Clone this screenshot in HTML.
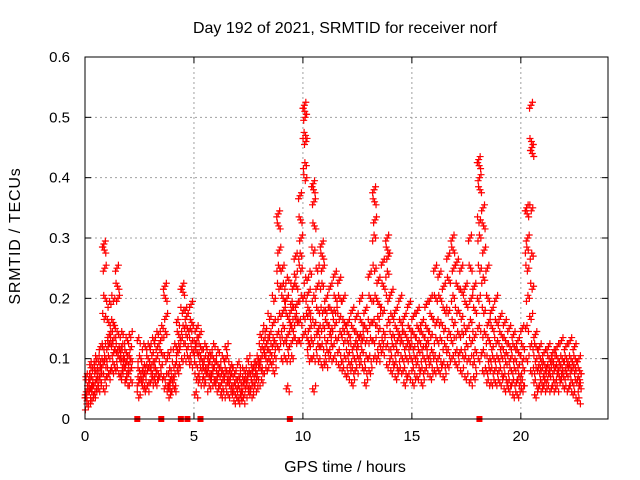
<!DOCTYPE html>
<html><head><meta charset="utf-8"><style>
body{margin:0;background:#fff;}
svg{display:block;font-family:"Liberation Sans",sans-serif;}
</style></head><body>
<svg id="chart" width="640" height="480" viewBox="0 0 640 480" xmlns="http://www.w3.org/2000/svg">
<rect width="640" height="480" fill="#fff"/>
<text x="345" y="33" font-size="16" text-anchor="middle">Day 192 of 2021, SRMTID for receiver norf</text>
<text transform="translate(20,236) rotate(-90)" font-size="16" letter-spacing="0.8" text-anchor="middle">SRMTID / TECUs</text>
<text x="345" y="472" font-size="16" text-anchor="middle">GPS time / hours</text>
<g id="grid"></g><g id="ticks"></g><g id="marks"></g>
<rect x="85" y="57" width="523" height="362" fill="none" stroke="#000" stroke-width="1"/>
</svg>
<script>
const xTicks=[0,5,10,15,20];
const yTicks=[0,0.1,0.2,0.3,0.4,0.5,0.6];
const yTickLabels=["0","0.1","0.2","0.3","0.4","0.5","0.6"];
const binTimes=[0,0.2,0.4,0.6,0.8,1.0,1.2,1.4,1.6,1.8,2.0,2.4,2.6,2.8,3.0,3.2,3.4,3.6,3.8,4.0,4.2,4.4,4.6,4.8,5.0,5.2,5.4,5.6,5.8,6.0,6.2,6.4,6.6,6.8,7.0,7.2,7.4,7.6,7.8,8.0,8.2,8.4,8.6,8.8,9.0,9.2,9.4,9.6,9.8,10.0,10.2,10.4,10.6,10.8,11.0,11.2,11.4,11.6,11.8,12.0,12.2,12.4,12.6,12.8,13.0,13.2,13.4,13.6,13.8,14.0,14.2,14.4,14.6,14.8,15.0,15.2,15.4,15.6,15.8,16.0,16.2,16.4,16.6,16.8,17.0,17.2,17.4,17.6,17.8,18.0,18.2,18.4,18.6,18.8,19.0,19.2,19.4,19.6,19.8,20.0,20.2,20.4,20.6,20.8,21.0,21.2,21.4,21.6,21.8,22.0,22.2,22.4,22.6];
const binValues=[
[.04,.03,.05,.02,.06,.04,.07],[.05,.07,.03,.08,.06,.04,.09,.05],[.06,.08,.05,.1,.07,.04,.09],[.07,.09,.12,.06,.1,.05,.08],
[.29,.28,.25,.2,.17,.1,.07,.12,.09,.05],[.12,.16,.14,.1,.08,.19,.07,.13],[.13,.16,.11,.09,.2,.15,.12,.08],[.25,.22,.2,.14,.12,.1,.08,.11],
[.12,.1,.08,.14,.09,.07,.11],[.09,.11,.07,.13,.08,.1,.06],[.08,.1,.12,.06,.09,.14],[.06,.08,.04,.1,.13,.07],
[.07,.05,.09,.12,.06,.08],[.08,.1,.06,.12,.05,.09],[.09,.07,.11,.13,.06,.08],[.1,.08,.12,.14,.07,.06],
[.13,.11,.09,.15,.07],[.22,.2,.17,.14,.1,.07,.05],[.06,.05,.04,.08,.07,.11,.05],[.07,.05,.09,.12,.06],
[.11,.14,.09,.12,.16,.08],[.22,.21,.18,.15,.13,.1],[.17,.15,.12,.1,.18,.14],[.19,.16,.13,.11,.09,.15],
[.12,.09,.15,.11,.07,.13,.04],[.14,.12,.1,.08,.06,.11],[.1,.08,.06,.12,.09,.07],[.09,.07,.11,.05,.08,.1],
[.08,.1,.06,.12,.07,.09],[.07,.09,.05,.11,.06,.08],[.06,.08,.05,.1,.07,.04],[.1,.08,.06,.04,.07,.12],
[.07,.05,.09,.04,.06,.08],[.06,.04,.08,.05,.07,.03],[.07,.05,.04,.06,.09,.03],[.06,.08,.04,.05,.03,.07],
[.07,.05,.08,.04,.06,.1],[.08,.06,.04,.07,.05,.09],[.09,.07,.05,.1,.06,.08],[.1,.08,.12,.06,.09,.14],
[.12,.1,.15,.08,.13,.11],[.14,.11,.17,.09,.13,.1],[.16,.13,.2,.1,.12,.08],[.34,.32,.28,.25,.22,.17,.14,.12],
[.25,.2,.18,.15,.13,.1,.22],[.2,.17,.14,.23,.12,.1,.05],[.18,.15,.13,.1,.22,.16,.19],[.27,.22,.19,.16,.13,.24,.17],
[.37,.33,.3,.27,.25,.2,.16,.13],[.52,.51,.5,.47,.46,.42,.4,.23,.2,.17,.14],[.21,.18,.15,.12,.1,.24,.17,.13],[.39,.38,.36,.32,.28,.2,.16,.13,.1,.05],
[.22,.18,.15,.12,.1,.25,.14],[.29,.27,.25,.22,.18,.15,.12,.09],[.2,.16,.13,.11,.09,.18],[.22,.18,.15,.12,.1,.14],
[.24,.2,.16,.13,.1,.18],[.23,.2,.17,.14,.11,.09],[.2,.16,.13,.1,.08,.15],[.16,.14,.11,.09,.07,.13],
[.18,.15,.12,.1,.08,.06],[.17,.14,.12,.1,.08,.13],[.2,.16,.13,.11,.09,.14],[.18,.15,.13,.1,.08,.06],
[.24,.2,.16,.13,.1,.08],[.38,.36,.33,.3,.25,.2,.16,.13,.1],[.23,.19,.15,.12,.1,.17],[.26,.22,.18,.14,.11,.13],
[.3,.28,.27,.24,.2,.16,.12,.09],[.21,.17,.14,.12,.1,.08],[.18,.15,.13,.11,.09,.07],[.2,.16,.13,.1,.08,.14],
[.17,.14,.12,.1,.08,.06],[.19,.15,.12,.1,.07,.13],[.17,.14,.12,.1,.08,.06],[.18,.15,.13,.11,.09,.07],
[.16,.14,.12,.1,.08,.06],[.19,.15,.13,.1,.08,.12],[.2,.17,.14,.11,.09,.07],[.25,.2,.16,.13,.1,.08],
[.24,.2,.16,.13,.1,.08],[.22,.18,.15,.12,.09,.07],[.27,.23,.18,.14,.11,.09],[.3,.28,.25,.2,.16,.13,.1],
[.26,.22,.18,.14,.11,.09],[.25,.21,.17,.14,.11,.08],[.22,.19,.15,.12,.1,.07],[.3,.25,.2,.16,.13,.1,.06],
[.22,.18,.14,.11,.09,.07],[.43,.42,.4,.38,.33,.3,.25,.2,.15,.1],[.35,.32,.28,.23,.18,.14,.11,.08],[.25,.2,.16,.13,.1,.08,.06],
[.18,.15,.12,.1,.08,.06],[.2,.16,.13,.1,.08,.06],[.17,.14,.12,.1,.08,.06],[.16,.13,.11,.09,.07,.05],
[.15,.12,.1,.08,.06,.05],[.14,.12,.1,.08,.06,.04],[.13,.11,.09,.07,.06,.04],[.15,.12,.1,.08,.06,.05],
[.35,.34,.3,.28,.25,.2,.15,.1],[.52,.46,.45,.44,.35,.27,.22,.17,.12,.08],[.14,.12,.1,.08,.06,.04],[.12,.1,.08,.06,.05,.09],
[.11,.09,.08,.06,.05,.07],[.12,.1,.08,.07,.05,.09],[.11,.09,.08,.06,.05,.1],[.12,.1,.08,.07,.05,.09],
[.13,.1,.08,.07,.06,.09],[.12,.1,.09,.07,.05,.08],[.13,.1,.08,.06,.05,.09],[.12,.1,.08,.06,.04,.09],
[.1,.08,.06,.05,.03,.07]];
const zeroTimes=[2.4,3.5,4.4,4.7,5.3,9.4,18.1];

const NS="http://www.w3.org/2000/svg";
const X0=85,X1=608,Y0=419,Y1=57,XMAX=24,YMAX=0.6;
function xs(v){return X0+(v/XMAX)*(X1-X0);}
function ys(v){return Y0-(v/YMAX)*(Y0-Y1);}
function mk(tag,attrs,parent){const e=document.createElementNS(NS,tag);for(const k in attrs)e.setAttribute(k,attrs[k]);parent.appendChild(e);return e;}
const grid=document.getElementById('grid'),ticks=document.getElementById('ticks'),marks=document.getElementById('marks');
xTicks.forEach(t=>{
  const x=xs(t);
  if(t>0){const g=mk('line',{x1:x,x2:x,y1:Y1,y2:Y0,stroke:'#a0a0a0','stroke-dasharray':'2,3'},grid);
  
  }
  mk('line',{x1:x,x2:x,y1:Y0,y2:Y0-6,stroke:'#000'},ticks);
  mk('line',{x1:x,x2:x,y1:Y1,y2:Y1+6,stroke:'#000'},ticks);
  const l=mk('text',{x:x,y:Y0+22,'font-size':'15','text-anchor':'middle'},ticks);
  l.textContent=String(t);
  
  
});
yTicks.forEach((t,i)=>{
  const y=ys(t);
  if(t>0&&t<YMAX){const g=mk('line',{x1:X0,x2:X1,y1:y,y2:y,stroke:'#a0a0a0','stroke-dasharray':'2,3'},grid);
  
  }
  mk('line',{x1:X0,x2:X0+6,y1:y,y2:y,stroke:'#000'},ticks);
  mk('line',{x1:X1,x2:X1-6,y1:y,y2:y,stroke:'#000'},ticks);
  const l=mk('text',{x:X0-15,y:y+5,'font-size':'15','text-anchor':'end'},ticks);
  l.textContent=yTickLabels[i];
  
  
});
binTimes.forEach((t,b)=>{
  const vals=binValues[b],n=vals.length;
  vals.forEach((v,i)=>{
    for(let r=0;r<3;r++){
      const frac=((i+r*n/3)%n)/n;
      const x=xs(t+frac*0.2),y=ys(v)+(r-1)*3*((i%2)?1:-1);
      const p=mk('path',{d:`M${x-3.5},${y}H${x+3.5}M${x},${y-3.5}V${y+3.5}`,stroke:'#ff0000','stroke-width':'1.2',fill:'none'},marks);
      
      
    }
  });
});
zeroTimes.forEach(t=>{
  const r=mk('rect',{x:xs(t)-3,y:Y0-3,width:6,height:6,fill:'#ff0000'},marks);
  
  
});
</script>
</body></html>
